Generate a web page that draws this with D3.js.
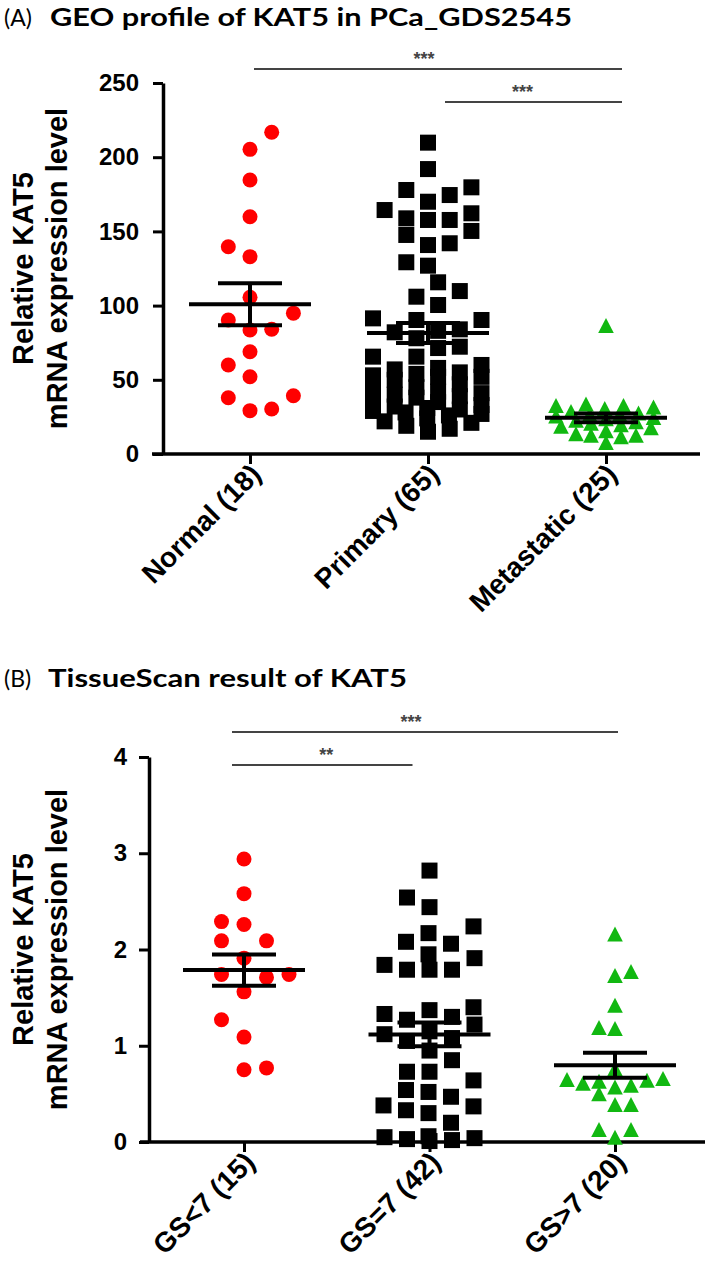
<!DOCTYPE html>
<html><head><meta charset="utf-8">
<script src="https://cdn.jsdelivr.net/npm/d3@7"></script>
<style>body{margin:0;background:#fff}svg{display:block}</style>
</head><body>
<svg id="c" width="709" height="1271"></svg>
<script>
// ---------- DATA ----------
const catsA = ["Normal (18)", "Primary (65)", "Metastatic (25)"];
const normalA = [216.8, 205.3, 184.6, 159.9, 139.7, 133.0, 105.6, 94.9, 84.1, 83.6, 90.3, 68.9, 60.0, 52.1, 37.9, 29.2, 30.3, 39.3];
const primaryA = [209.8, 192.0, 179.7, 177.9, 174.5, 170.0, 164.4, 162.2, 158.8, 157.7, 157.7, 150.3, 147.6, 142.0, 140.8, 129.2, 126.9, 115.7, 109.8, 106.0, 100.4, 91.4, 90.3, 90.3,
  84, 83, 82, 78, 72.3, 71.4, 65.6, 65.6,
  60, 58, 57, 55, 54, 53, 52, 52, 50, 47, 45, 44, 42, 41, 40, 39, 38, 36, 35, 33, 32, 31, 30, 29, 28, 27, 26, 24, 22, 21, 19, 17, 15];
const metastaticA = [86, 33, 32, 32, 31, 30, 28, 27, 26, 26, 25, 24, 23, 22, 21, 20, 19, 18, 17, 15, 13, 12, 12, 11, 7];
const ticksA = [0, 50, 100, 150, 200, 250];
const sigA = [{ from: 0, to: 2, label: "***" }, { from: 1, to: 2, label: "***" }];

const catsB = ["GS<7 (15)", "GS=7 (42)", "GS>7 (20)"];
const gsLowB = [2.94, 2.58, 2.26, 2.29, 2.09, 2.09, 1.91, 1.74, 1.56, 1.71, 1.74, 1.27, 1.09, 0.75, 0.77];
const gsEqB = [2.82, 2.54, 2.44, 2.24, 2.17, 2.08, 2.06, 1.95, 1.91, 1.84, 1.79, 1.79, 1.79,
  1.40, 1.37, 1.33, 1.30, 1.27, 1.22, 1.15, 1.12, 1.08, 1.05,
  0.95, 0.85, 0.73, 0.73, 0.64, 0.54, 0.52, 0.47, 0.38, 0.37, 0.33, 0.30,
  0.20, 0.06, 0.05, 0.04, 0.03, 0.02, 0.01];
const gsHighB = [2.15, 1.76, 1.72, 1.41, 1.18, 1.17, 0.75, 0.65, 0.64, 0.63, 0.62, 0.60, 0.58, 0.56, 0.49, 0.38, 0.38, 0.12, 0.12, 0.04];
const ticksB = [0, 1, 2, 3, 4];
const sigB = [{ from: 0, to: 2, label: "***" }, { from: 0, to: 1, label: "**" }];

const yTitle = ["Relative KAT5", "mRNA expression level"];

// ---------- STYLE / LAYOUT ----------
const FONT_AX = "'Liberation Sans', Arial, sans-serif";
const FONT_NUM = "'Liberation Sans Narrow', 'Liberation Sans', Arial, sans-serif";
const FONT_TITLE = "Lato, 'Open Sans', sans-serif";
const RED = "#ff0000", BLACK = "#000000", GREEN = "#11b811";
const svg = d3.select("#c");

const shapes = {
  circle: g => g.append("circle").attr("r", 7.5),
  square: g => g.append("rect").attr("x", -8).attr("y", -8).attr("width", 16).attr("height", 16),
  triangle: g => g.append("path").attr("d", "M0,-8.5L7.8,6.5L-7.8,6.5Z")
};

// dodge-style beeswarm with a maximum half width (overlap allowed when crowded)
function beeswarm(vals, y, sx, sy, maxW) {
  const order = d3.range(vals.length).sort((a, b) => vals[a] - vals[b]);
  const placed = [], xs = new Array(vals.length);
  let flip = 1;
  for (const i of order) {
    const yy = y(vals[i]);
    const near = placed.filter(p => Math.abs(p.y - yy) < sy);
    const iv = near.map(p => [p.x - sx, p.x + sx]);
    const cands = [0];
    iv.forEach(([a, b]) => cands.push(a, b));
    cands.sort((a, b) => Math.abs(a) - Math.abs(b) || (flip > 0 ? b - a : a - b));
    let best = null;
    for (const c of cands) {
      if (Math.abs(c) > maxW + 1e-6) continue;
      if (iv.every(([a, b]) => c <= a + 1e-6 || c >= b - 1e-6)) { best = c; break; }
    }
    if (best === null) {
      let bestScore = Infinity;
      const grid = d3.range(-maxW, maxW + 0.01, sx / 4).sort((a, b) => Math.abs(a) - Math.abs(b) || (flip > 0 ? b - a : a - b));
      for (const c of grid) {
        let s = 0;
        for (const p of near) {
          const dx = Math.abs(p.x - c);
          if (dx < sx) s += (sx - dx) * (sy - Math.abs(p.y - yy));
        }
        if (s < bestScore - 1e-6) { bestScore = s; best = c; }
      }
    }
    if (best !== 0) flip = -Math.sign(best);
    xs[i] = best;
    placed.push({ x: best, y: yy });
  }
  return xs;
}

function drawPanel(cfg) {
  const g = svg.append("g");
  const y = d3.scaleLinear().domain([0, cfg.yMax]).range([cfg.y0, cfg.yTop]);
  const x = d3.scalePoint().domain(cfg.cats).range([cfg.xFirst, cfg.xLast]);

  // title
  const t = g.append("text").attr("x", 4).attr("y", cfg.titleY).attr("font-family", FONT_TITLE).attr("fill", "#000");
  t.append("tspan").attr("font-size", 23).attr("font-weight", "normal").text(cfg.tag);
  t.append("tspan").attr("x", cfg.titleX).attr("font-size", 25.5).attr("font-weight", "bold")
    .attr("textLength", cfg.titleW).attr("lengthAdjust", "spacingAndGlyphs").text(cfg.title);

  // y axis
  const ya = g.append("g").attr("transform", `translate(${cfg.axX},0)`)
    .call(d3.axisLeft(y).tickValues(cfg.ticks).tickFormat(d3.format("d")).tickSize(10).tickPadding(cfg.tickPad).tickSizeOuter(0));
  ya.select(".domain").attr("stroke-width", 3.5).attr("stroke", "#000");
  ya.selectAll(".tick line").attr("stroke-width", 3).attr("stroke", "#000");
  ya.selectAll(".tick text").attr("font-family", FONT_NUM).attr("font-weight", "bold")
    .attr("font-size", cfg.tickFont).attr("fill", "#000");

  // y title
  const yt = g.append("text").attr("transform", `translate(0,${(cfg.y0 + cfg.yTop) / 2}) rotate(-90)`)
    .attr("text-anchor", "middle").attr("font-family", FONT_AX).attr("font-weight", "bold")
    .attr("font-size", cfg.yTitleFont).attr("fill", "#000");
  yTitle.forEach((s, i) => yt.append("tspan").attr("x", 0).attr("y", cfg.yTitleX[i]).text(s));

  // x axis
  const xa = g.append("g").attr("transform", `translate(0,${cfg.y0})`)
    .call(d3.axisBottom(x).tickSize(10).tickSizeOuter(0));
  xa.select(".domain").remove();
  xa.selectAll(".tick line").attr("stroke-width", 3).attr("stroke", "#000");
  xa.selectAll(".tick text").remove();
  xa.append("line").attr("x1", cfg.axL).attr("x2", cfg.axR).attr("stroke", "#000").attr("stroke-width", 3.5);
  xa.selectAll(".tick").append("text")
    .attr("transform", `translate(${cfg.labDx},${cfg.labDy}) rotate(-45)`)
    .attr("text-anchor", "end").attr("font-family", FONT_AX).attr("font-weight", "bold")
    .attr("font-size", cfg.catFont).attr("fill", "#000").text(d => d);

  // points
  cfg.groups.forEach((grp, k) => {
    const cx = x(cfg.cats[k]);
    const offs = beeswarm(grp.vals, y, grp.sx, grp.sy, grp.maxW);
    const pts = g.append("g").attr("fill", grp.color);
    grp.vals.forEach((v, i) => {
      const pg = pts.append("g").attr("transform", `translate(${cx + offs[i]},${y(v)})`);
      shapes[grp.shape](pg);
    });
  });

  // mean +- SEM
  cfg.groups.forEach((grp, k) => {
    const cx = x(cfg.cats[k]);
    const m = d3.mean(grp.vals), sem = d3.deviation(grp.vals) / Math.sqrt(grp.vals.length);
    const eg = g.append("g").attr("stroke", "#000").attr("stroke-width", 4);
    eg.append("line").attr("x1", cx - 61).attr("x2", cx + 61).attr("y1", y(m)).attr("y2", y(m));
    eg.append("line").attr("x1", cx).attr("x2", cx).attr("y1", y(m + sem)).attr("y2", y(m - sem));
    [m + sem, m - sem].forEach(v => eg.append("line").attr("x1", cx - 32).attr("x2", cx + 32).attr("y1", y(v)).attr("y2", y(v)));
  });

  // significance
  cfg.sig.forEach((s, i) => {
    const L = cfg.sigLay[i];
    const x1 = x(cfg.cats[s.from]) + L.dx1, x2 = x(cfg.cats[s.to]) + L.dx2;
    g.append("line").attr("x1", x1).attr("x2", x2).attr("y1", L.y).attr("y2", L.y)
      .attr("stroke", "#444").attr("stroke-width", 2);
    g.append("text").attr("x", (x1 + x2) / 2 - L.tdx).attr("y", L.y - 4).attr("text-anchor", "middle")
      .attr("font-family", FONT_AX).attr("font-weight", "bold").attr("font-size", 18).attr("fill", "#444").text(s.label);
  });
}

drawPanel({
  tag: "(A)", title: "GEO profile of KAT5 in PCa_GDS2545", titleX: 50, titleY: 26, titleW: 522,
  cats: catsA, yMax: 250, ticks: ticksA, y0: 454, yTop: 83, xFirst: 250, xLast: 606,
  axX: 163, axL: 152, axR: 700, tickPad: 14, tickFont: 24,
  yTitleFont: 29, yTitleX: [33, 67],
  labDx: 12, labDy: 22, catFont: 28,
  groups: [
    { vals: normalA, shape: "circle", color: RED, sx: 21.7, sy: 18, maxW: 70 },
    { vals: primaryA, shape: "square", color: BLACK, sx: 21.7, sy: 16, maxW: 55 },
    { vals: metastaticA, shape: "triangle", color: GREEN, sx: 15, sy: 11, maxW: 50 }
  ],
  sig: sigA,
  sigLay: [{ y: 69, dx1: 4, dx2: 16, tdx: 14 }, { y: 102, dx1: 17, dx2: 16, tdx: 11 }]
});

drawPanel({
  tag: "(B)", title: "TissueScan result of KAT5", titleX: 48, titleY: 687, titleW: 359,
  cats: catsB, yMax: 4, ticks: ticksB, y0: 1142, yTop: 757, xFirst: 244, xLast: 615,
  axX: 149, axL: 140, axR: 705, tickPad: 12, tickFont: 24,
  yTitleFont: 29, yTitleX: [33, 67],
  labDx: 12, labDy: 22, catFont: 28,
  groups: [
    { vals: gsLowB, shape: "circle", color: RED, sx: 22.5, sy: 18, maxW: 70 },
    { vals: gsEqB, shape: "square", color: BLACK, sx: 22.5, sy: 18, maxW: 46 },
    { vals: gsHighB, shape: "triangle", color: GREEN, sx: 16, sy: 12, maxW: 48 }
  ],
  sig: sigB,
  sigLay: [{ y: 732, dx1: -12, dx2: 3, tdx: 14 }, { y: 765, dx1: -12, dx2: -17, tdx: -4 }]
});
</script>
</body></html>
